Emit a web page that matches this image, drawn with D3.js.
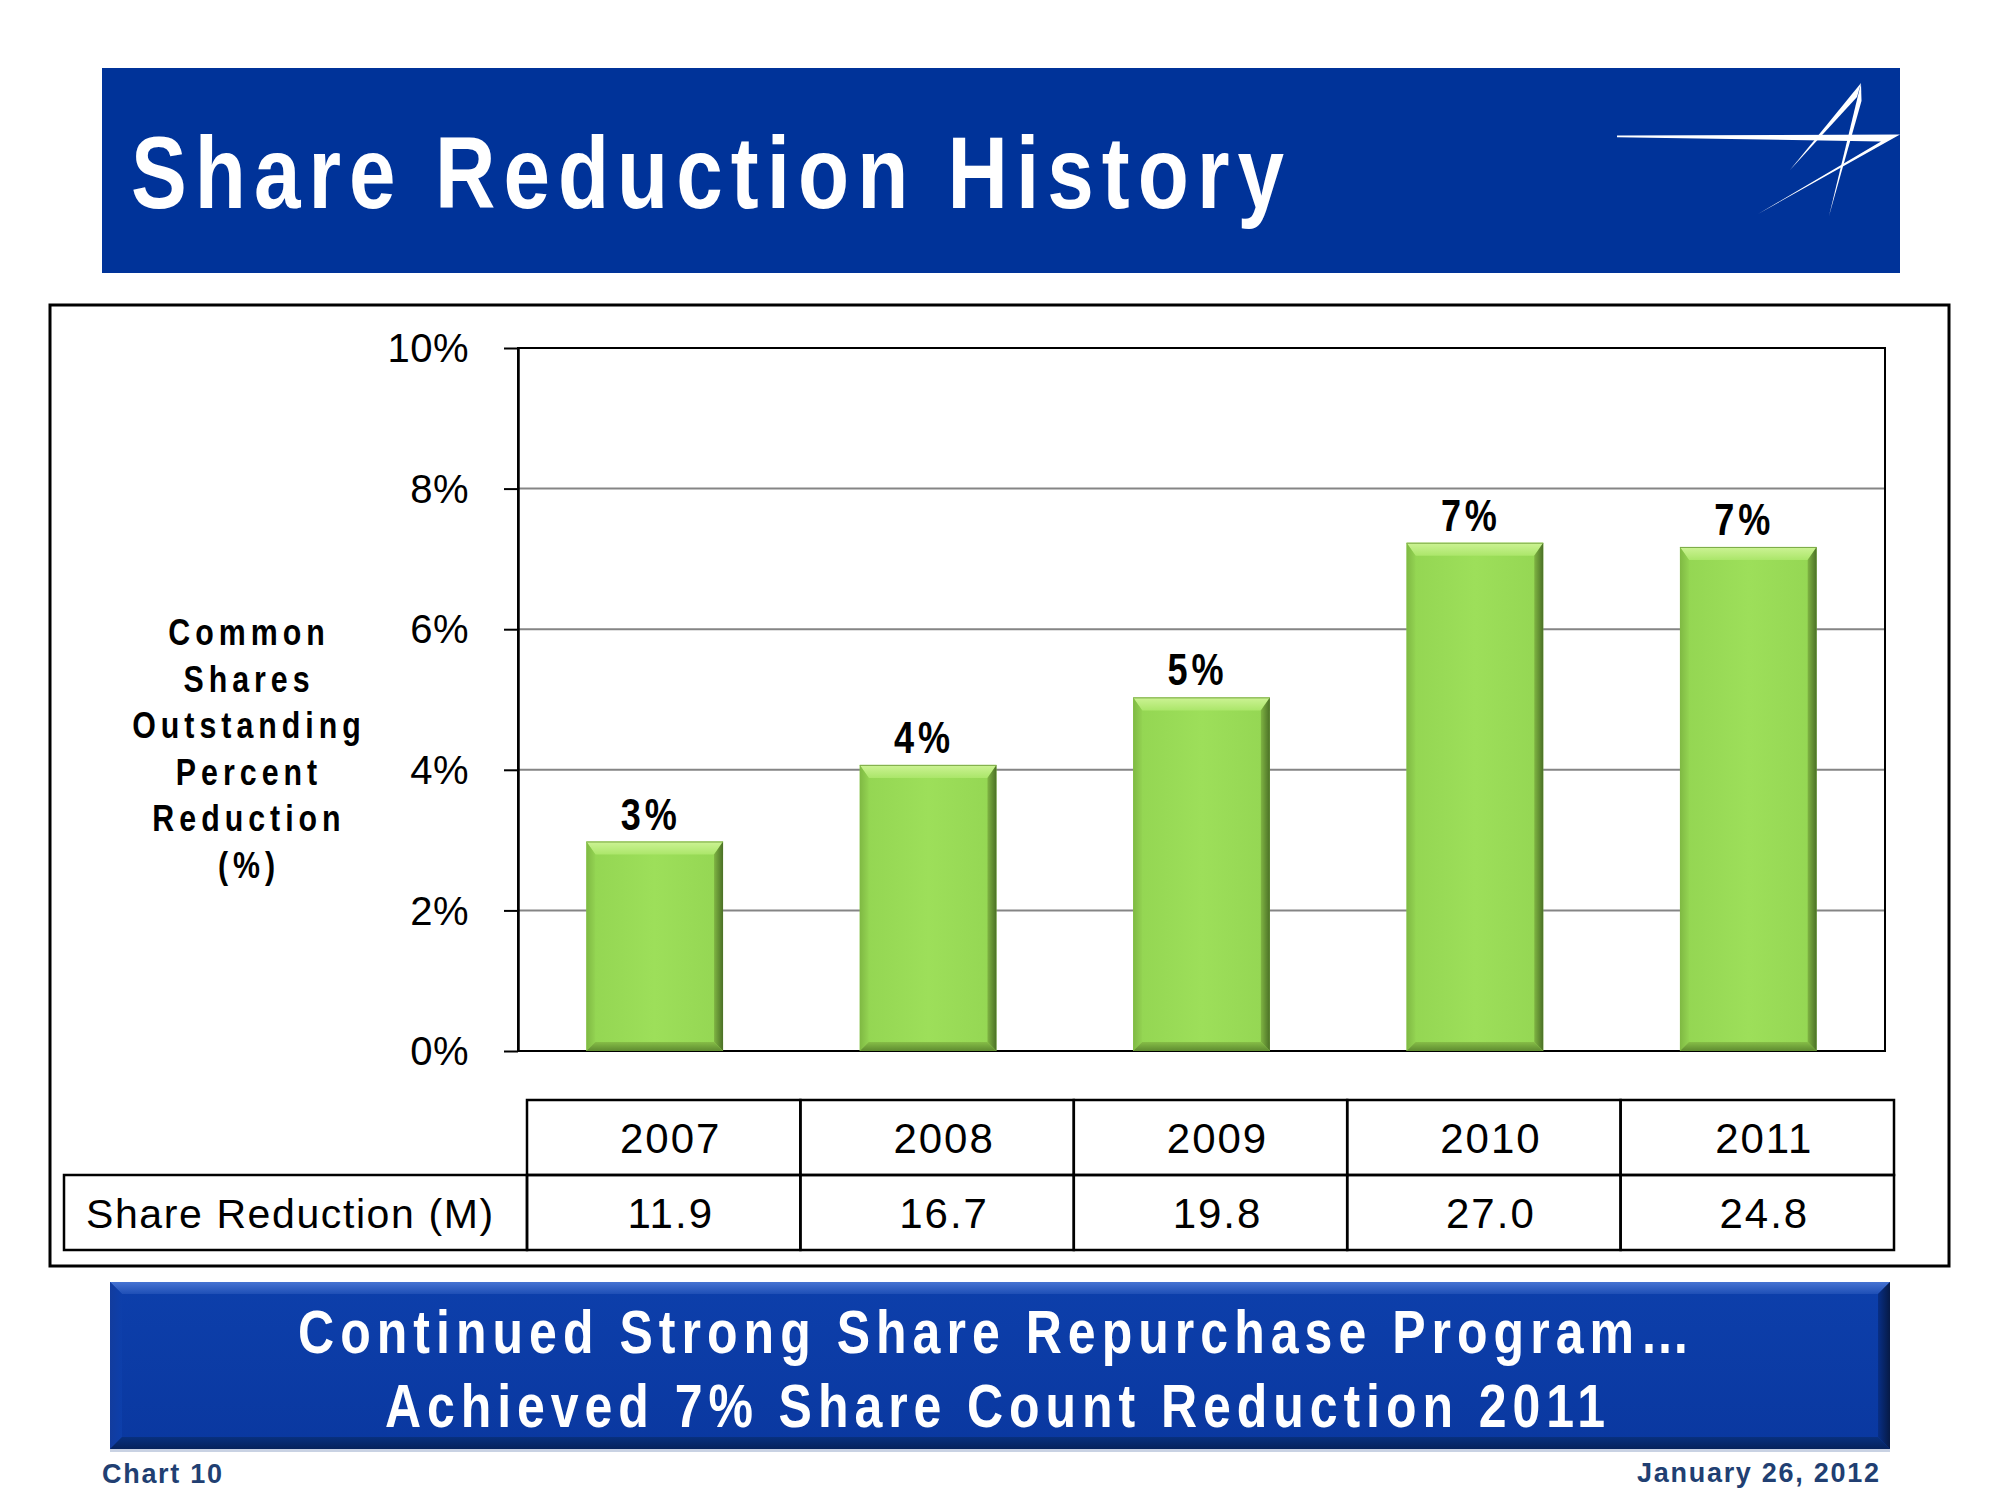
<!DOCTYPE html>
<html><head><meta charset="utf-8">
<script src="https://cdn.jsdelivr.net/npm/d3@7"></script>
<style>html,body{margin:0;padding:0;background:#fff}svg{display:block}</style>
</head><body><svg id="c" width="2000" height="1500"></svg>
<script>
// ---------- data ----------
const years = ["2007", "2008", "2009", "2010", "2011"];
const pctReduction = [2.98, 4.07, 5.03, 7.23, 7.17];
const pctLabels = ["3%", "4%", "5%", "7%", "7%"];
const shareReductionM = ["11.9", "16.7", "19.8", "27.0", "24.8"];
const yTicks = [0, 2, 4, 6, 8, 10];
const yTitleLines = ["Common", "Shares", "Outstanding", "Percent", "Reduction", "(%)"];
const titleText = "Share Reduction History";
const bannerLines = ["Continued Strong Share Repurchase Program\u2026", "Achieved 7% Share Count Reduction 2011"];
const tableRowLabel = "Share Reduction (M)";
const footerLeft = "Chart 10";
const footerRight = "January 26, 2012";

// ---------- helpers ----------
function hasFont(name) {
  const c = document.createElement("canvas").getContext("2d");
  const s = "Share Reduction History 0123456789%";
  c.font = "bold 72px monospace"; const a = c.measureText(s).width;
  c.font = `bold 72px '${name}', monospace`; const b = c.measureText(s).width;
  return Math.abs(a - b) > 0.5;
}
const NARROW = hasFont("Liberation Sans Narrow") ? "'Liberation Sans Narrow'" : (hasFont("Arial Narrow") ? "'Arial Narrow'" : null);
const SANS = "'Liberation Sans', Arial, Helvetica, sans-serif";

function narrowText(parent, str, x, y, size, anchor, width, fill, ls) {
  const t = parent.append("text").text(str)
    .attr("text-anchor", anchor).attr("font-weight", "bold")
    .attr("font-size", size).attr("fill", fill);
  if (NARROW) {
    t.attr("font-family", NARROW).attr("x", x).attr("y", y);
    if (width) t.attr("textLength", width).attr("lengthAdjust", "spacing");
    if (ls) t.attr("letter-spacing", ls);
  } else {
    t.attr("font-family", SANS).attr("transform", `translate(${x},${y}) scale(0.82,1)`);
    if (width) t.attr("textLength", width / 0.82).attr("lengthAdjust", "spacing");
    if (ls) t.attr("letter-spacing", ls / 0.82);
  }
  return t;
}

const svg = d3.select("#c");
svg.append("rect").attr("width", 2000).attr("height", 1500).attr("fill", "#fff");

// ---------- gradients ----------
const defs = svg.append("defs");
function lin(id, x1, y1, x2, y2, stops) {
  const g = defs.append("linearGradient").attr("id", id)
    .attr("x1", x1).attr("y1", y1).attr("x2", x2).attr("y2", y2);
  stops.forEach(s => g.append("stop").attr("offset", s[0]).attr("stop-color", s[1]));
}
lin("barTop", 0, 0, 0, 1, [[0, "#cdf395"], [1, "#abe66a"]]);
lin("barBody", 0, 0, 1, 0, [[0, "#93d552"], [0.5, "#9ddf5a"], [1, "#94d653"]]);
lin("barLeft", 0, 0, 1, 0, [[0, "#7fb943"], [1, "#93d352"]]);
lin("barRight", 0, 0, 1, 0, [[0, "#7fb443"], [1, "#4b7026"]]);
lin("barBottom", 0, 0, 0, 1, [[0, "#86bd47"], [1, "#5e8b30"]]);
lin("banTop", 0, 0, 0, 1, [[0, "#4673d2"], [1, "#1f4fb6"]]);
lin("banBody", 0, 0, 0, 1, [[0, "#0d3fab"], [1, "#0a38a0"]]);
lin("banBottom", 0, 0, 0, 1, [[0, "#08307f"], [1, "#06225c"]]);
lin("banRight", 0, 0, 1, 0, [[0, "#082f86"], [1, "#071a45"]]);
lin("banLeft", 0, 0, 1, 0, [[0, "#123c9e"], [1, "#0d3fab"]]);

// ---------- title banner ----------
svg.append("rect").attr("x", 102).attr("y", 68).attr("width", 1798).attr("height", 205).attr("fill", "#003399");
narrowText(svg, titleText, 131, 208, 102, "start", 1153, "#ffffff");

// logo
const logo = svg.append("g").attr("fill", "#ffffff");
logo.append("polygon").attr("points", "1617,135.5 1900,134.5 1758,214 1881,141.5 1617,137.2");
logo.append("polygon").attr("points", "1861,83 1790,170 1857,97");
logo.append("polygon").attr("points", "1861,83 1829,216 1861.5,101");

// ---------- chart frame ----------
svg.append("rect").attr("x", 50).attr("y", 305).attr("width", 1899).attr("height", 961)
  .attr("fill", "none").attr("stroke", "#000").attr("stroke-width", 3);

const P = { l: 518, r: 1885, t: 348, b: 1051 };
const x = d3.scaleBand().domain(years).range([P.l, P.r]).paddingInner(0.5).paddingOuter(0.25);
const y = d3.scaleLinear().domain([0, 10]).range([P.b, P.t]);

// gridlines
svg.append("g").selectAll("line").data(yTicks.filter(d => d > 0 && d < 10)).join("line")
  .attr("x1", P.l).attr("x2", P.r).attr("y1", d => y(d)).attr("y2", d => y(d))
  .attr("stroke", "#858585").attr("stroke-width", 2);
// plot frame
svg.append("rect").attr("x", P.l).attr("y", P.t).attr("width", P.r - P.l).attr("height", P.b - P.t)
  .attr("fill", "none").attr("stroke", "#000").attr("stroke-width", 2);

// y axis
const ax = svg.append("g").attr("transform", `translate(${P.l},0)`)
  .call(d3.axisLeft(y).tickValues(yTicks).tickSize(14).tickSizeOuter(0).tickPadding(35).tickFormat(d => d + "%"));
ax.select(".domain").attr("stroke", "#000").attr("stroke-width", 2.5);
ax.selectAll(".tick line").attr("stroke", "#000").attr("stroke-width", 2);
ax.selectAll(".tick text").attr("font-family", SANS).attr("font-size", 40).attr("fill", "#000")
  .attr("letter-spacing", 0.5).attr("dy", "0.34em");

// y title
const yt = svg.append("g");
yTitleLines.forEach((s, i) => narrowText(yt, s, 249, 645 + i * 46.6, 37, "middle", null, "#000", 5));

// bars with bevel
const data = years.map((yr, i) => ({ yr, v: pctReduction[i], lab: pctLabels[i] }));
const bars = svg.append("g").selectAll("g").data(data).join("g");
const bw = x.bandwidth(), bs = 9, bt = 13;
bars.append("rect").attr("x", d => x(d.yr)).attr("y", d => y(d.v))
  .attr("width", bw).attr("height", d => y(0) - y(d.v)).attr("fill", "url(#barBody)");
function pts(a) { return a.map(p => p.join(",")).join(" "); }
bars.append("polygon").attr("fill", "url(#barTop)").attr("points", d => {
  const x0 = x(d.yr), x1 = x0 + bw, y0 = y(d.v);
  return pts([[x0, y0], [x1, y0], [x1 - bs, y0 + bt], [x0 + bs, y0 + bt]]);
});
bars.append("polygon").attr("fill", "url(#barLeft)").attr("points", d => {
  const x0 = x(d.yr), y0 = y(d.v), y1 = y(0);
  return pts([[x0, y0], [x0 + bs, y0 + bt], [x0 + bs, y1 - bs], [x0, y1]]);
});
bars.append("polygon").attr("fill", "url(#barRight)").attr("points", d => {
  const x1 = x(d.yr) + bw, y0 = y(d.v), y1 = y(0);
  return pts([[x1, y0], [x1, y1], [x1 - bs, y1 - bs], [x1 - bs, y0 + bt]]);
});
bars.append("polygon").attr("fill", "url(#barBottom)").attr("points", d => {
  const x0 = x(d.yr), x1 = x0 + bw, y1 = y(0);
  return pts([[x0, y1], [x0 + bs, y1 - bs], [x1 - bs, y1 - bs], [x1, y1]]);
});
bars.append("line").attr("x1", d => x(d.yr)).attr("x2", d => x(d.yr) + bw)
  .attr("y1", d => y(d.v) + 0.5).attr("y2", d => y(d.v) + 0.5).attr("stroke", "#7aa845").attr("stroke-width", 1);
bars.each(function (d) {
  narrowText(d3.select(this), d.lab, x(d.yr) + bw / 2 - 6, y(d.v) - 12, 44, "middle", 56, "#000");
});

// ---------- table ----------
const tx = d3.scaleBand().domain(years).range([527, 1894]);
const T = { r0: 1100, r1: 1175, r2: 1250, labL: 64, off: 7 };
const tbl = svg.append("g");
tbl.selectAll("rect.h").data(years).join("rect").attr("class", "h")
  .attr("x", d => tx(d)).attr("y", T.r0).attr("width", tx.bandwidth()).attr("height", T.r1 - T.r0)
  .attr("fill", "none").attr("stroke", "#000").attr("stroke-width", 2.5);
tbl.selectAll("rect.v").data(years).join("rect").attr("class", "v")
  .attr("x", d => tx(d)).attr("y", T.r1).attr("width", tx.bandwidth()).attr("height", T.r2 - T.r1)
  .attr("fill", "none").attr("stroke", "#000").attr("stroke-width", 2.5);
tbl.append("rect").attr("x", T.labL).attr("y", T.r1).attr("width", 527 - T.labL).attr("height", T.r2 - T.r1)
  .attr("fill", "none").attr("stroke", "#000").attr("stroke-width", 2.5);
tbl.selectAll("text.yr").data(years).join("text").attr("class", "yr")
  .attr("x", d => tx(d) + tx.bandwidth() / 2 + T.off).attr("y", 1153).attr("text-anchor", "middle")
  .attr("font-family", SANS).attr("font-size", 42).attr("letter-spacing", 2).attr("fill", "#000").text(d => d);
tbl.selectAll("text.val").data(years).join("text").attr("class", "val")
  .attr("x", d => tx(d) + tx.bandwidth() / 2 + T.off).attr("y", 1228).attr("text-anchor", "middle")
  .attr("font-family", SANS).attr("font-size", 42).attr("letter-spacing", 2).attr("fill", "#000")
  .text((d, i) => shareReductionM[i]);
tbl.append("text").attr("x", 86).attr("y", 1228).attr("font-family", SANS).attr("font-size", 41)
  .attr("letter-spacing", 1.6).attr("fill", "#000").text(tableRowLabel);

// ---------- bottom banner ----------
const B = { x: 110, y: 1282, w: 1780, h: 167, b: 12 };
const ban = svg.append("g");
ban.append("rect").attr("x", B.x).attr("y", B.y + 3).attr("width", B.w).attr("height", B.h).attr("fill", "#c9d2e3");
ban.append("rect").attr("x", B.x).attr("y", B.y).attr("width", B.w).attr("height", B.h).attr("fill", "url(#banBody)");
const bx0 = B.x, bx1 = B.x + B.w, by0 = B.y, by1 = B.y + B.h, bb = B.b;
ban.append("polygon").attr("fill", "url(#banTop)").attr("points", pts([[bx0, by0], [bx1, by0], [bx1 - bb, by0 + bb], [bx0 + bb, by0 + bb]]));
ban.append("polygon").attr("fill", "url(#banLeft)").attr("points", pts([[bx0, by0], [bx0 + bb, by0 + bb], [bx0 + bb, by1 - bb], [bx0, by1]]));
ban.append("polygon").attr("fill", "url(#banRight)").attr("points", pts([[bx1, by0], [bx1, by1], [bx1 - bb, by1 - bb], [bx1 - bb, by0 + bb]]));
ban.append("polygon").attr("fill", "url(#banBottom)").attr("points", pts([[bx0, by1], [bx0 + bb, by1 - bb], [bx1 - bb, by1 - bb], [bx1, by1]]));
narrowText(ban, bannerLines[0], 994, 1353, 61, "middle", 1392, "#ffffff");
narrowText(ban, bannerLines[1], 995, 1427, 61, "middle", 1220, "#ffffff");

// ---------- footer ----------
svg.append("text").attr("x", 102).attr("y", 1483).attr("font-family", SANS).attr("font-weight", "bold")
  .attr("font-size", 27).attr("fill", "#213f72").attr("textLength", 120).attr("lengthAdjust", "spacing").text(footerLeft);
svg.append("text").attr("x", 1879).attr("y", 1482).attr("text-anchor", "end").attr("font-family", SANS).attr("font-weight", "bold")
  .attr("font-size", 27).attr("fill", "#213f72").attr("textLength", 242).attr("lengthAdjust", "spacing").text(footerRight);
</script></body></html>
